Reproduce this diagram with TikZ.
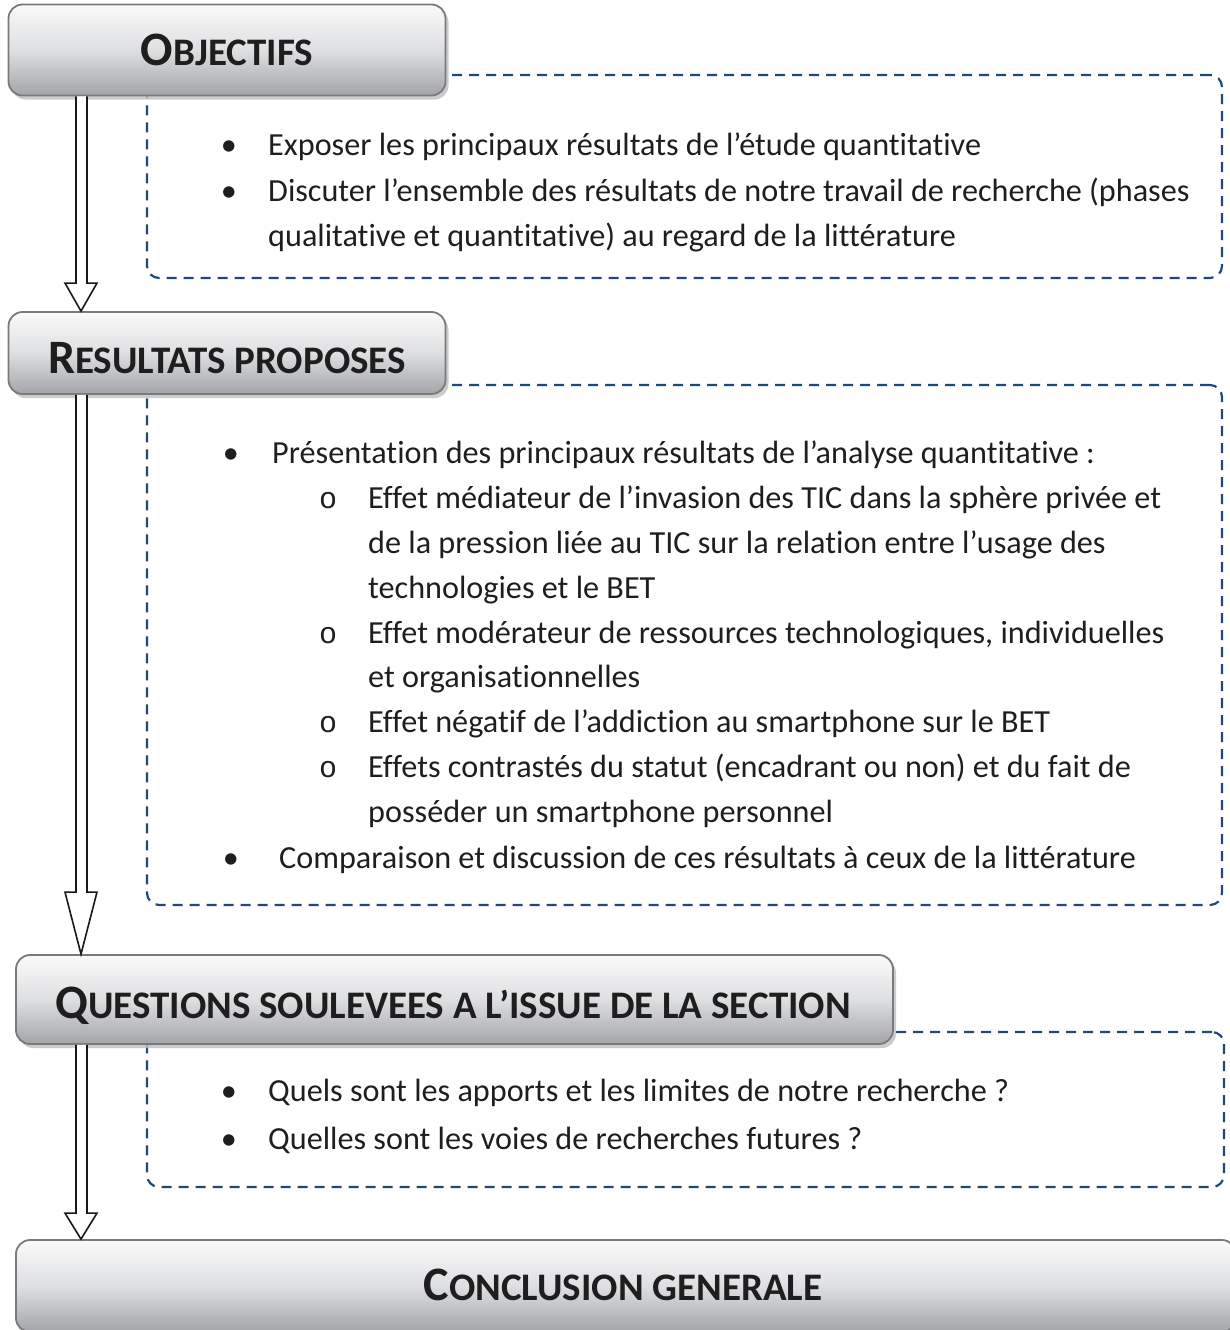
\documentclass[tikz,border=0pt]{standalone}
\usepackage{fontspec}
\setmainfont{Carlito}[Ligatures=NoCommon]
\newfontfamily\monofam{Liberation Mono}
\usetikzlibrary{calc,shadows}
\definecolor{dashblue}{RGB}{31,73,125}
\definecolor{hdrtop}{RGB}{250,250,250}
\definecolor{hdrmid}{RGB}{222,223,225}
\definecolor{hdrbot}{RGB}{163,164,168}
\definecolor{hdrline}{RGB}{122,122,122}
\definecolor{txt}{RGB}{30,30,30}
\newcommand\hdrtext[2]{\bfseries{\fontsize{48}{48}\selectfont #1}{\fontsize{39}{39}\selectfont #2}}
\newcommand\hollowarrow[3]{%
  \draw[hollowarrow] let \p1=(#1.south west),\p2=(#2.north west) in
   (76pt,\y1) -- (76pt,\y2+#3) -- (65pt,\y2+#3) -- (81pt,\y2) -- (97pt,\y2+#3) -- (87pt,\y2+#3) -- (87pt,\y1);}
\tikzset{
  hdrbox/.style={draw=hdrline, line width=1.8pt, rounded corners=14pt,
    top color=hdrtop, bottom color=hdrbot, middle color=hdrmid,
    drop shadow={shadow xshift=3pt, shadow yshift=-4pt, fill=black!25, opacity=0.8},
    inner sep=0pt, text=txt},
  dashbox/.style={draw=dashblue, line width=2.2pt, dash pattern=on 10pt off 7pt,
    rounded corners=12pt, inner sep=0pt},
  hollowarrow/.style={draw=black!90, line width=1.6pt, fill=white, line join=miter},
  txtline/.style={anchor=base west, inner sep=0pt, text=txt, font=\fontsize{32.2}{36}\selectfont},
  bul/.style={anchor=base, inner sep=0pt, text=txt, font=\fontsize{32.2}{36}\selectfont},
  subbul/.style={anchor=base, inner sep=0pt, text=txt, font=\monofam\fontsize{30}{32}\selectfont},
}
\begin{document}
\begin{tikzpicture}[x=1pt,y=-1pt]
\useasboundingbox (0,0) rectangle (1229,1330);
% dashed frames
\node[dashbox, minimum width=1075pt, minimum height=203pt] (f1) at (684.5,176.5) {};
\node[dashbox, minimum width=1075pt, minimum height=520pt] (f2) at (684.5,645) {};
\node[dashbox, minimum width=1077pt, minimum height=155pt] (f3) at (685.5,1109.5) {};
% header boxes
\node[hdrbox, minimum width=437pt, minimum height=91pt] (h1) at (227,50) {};
\node[hdrbox, minimum width=437pt, minimum height=82pt] (h2) at (227,353) {};
\node[hdrbox, minimum width=877pt, minimum height=89pt] (h3) at (454.5,999.5) {};
\node[hdrbox, minimum width=1220pt, minimum height=92pt] (h4) at (626,1286) {};
% arrows
\hollowarrow{h1}{h2}{28}
\hollowarrow{h2}{h3}{62}
\hollowarrow{h3}{h4}{26}
% header texts
\node[anchor=base, inner sep=0pt, text=txt] (t1) at (227,66) {\hdrtext{O}{BJECTIFS}};
\node[anchor=base, inner sep=0pt, text=txt] (t2) at (227,373) {\hdrtext{R}{ESULTATS PROPOSES}};
\node[anchor=base, inner sep=0pt, text=txt] (t3) at (453,1018) {\hdrtext{Q}{UESTIONS SOULEVEES A L’ISSUE DE LA SECTION}};
\node[anchor=base, inner sep=0pt, text=txt] (t4) at (623,1300) {\hdrtext{C}{ONCLUSION GENERALE}};
% box 1
\node[bul] (b11) at (229,155) {•};
\node[txtline] (l11) at (268,155) {Exposer les principaux résultats de l’étude quantitative};
\node[bul] (b12) at (229,201) {•};
\node[txtline] (l12) at (268,201) {Discuter l’ensemble des résultats de notre travail de recherche (phases};
\node[txtline] (l13) at (268,246) {qualitative et quantitative) au regard de la littérature};
% box 2
\node[bul] (b21) at (231,463) {•};
\node[txtline] (l21) at (272,463) {Présentation des principaux résultats de l’analyse quantitative :};
\node[subbul] (s1) at (328,508) {o};
\node[txtline] (l22) at (368,508) {Effet médiateur de l’invasion des TIC dans la sphère privée et};
\node[txtline] (l23) at (368,553) {de la pression liée au TIC sur la relation entre l’usage des};
\node[txtline] (l24) at (368,598) {technologies et le BET};
\node[subbul] (s2) at (328,643) {o};
\node[txtline] (l25) at (368,643) {Effet modérateur de ressources technologiques, individuelles};
\node[txtline] (l26) at (368,687) {et organisationnelles};
\node[subbul] (s3) at (328,732) {o};
\node[txtline] (l27) at (368,732) {Effet négatif de l’addiction au smartphone sur le BET};
\node[subbul] (s4) at (328,777) {o};
\node[txtline] (l28) at (368,777) {Effets contrastés du statut (encadrant ou non) et du fait de};
\node[txtline] (l29) at (368,822) {posséder un smartphone personnel};
\node[bul] (b22) at (231,868) {•};
\node[txtline] (l2a) at (279,868) {Comparaison et discussion de ces résultats à ceux de la littérature};
% box 3
\node[bul] (b31) at (229,1101) {•};
\node[txtline] (l31) at (268,1101) {Quels sont les apports et les limites de notre recherche ?};
\node[bul] (b32) at (229,1149) {•};
\node[txtline] (l32) at (268,1149) {Quelles sont les voies de recherches futures ?};
\end{tikzpicture}
\end{document}
